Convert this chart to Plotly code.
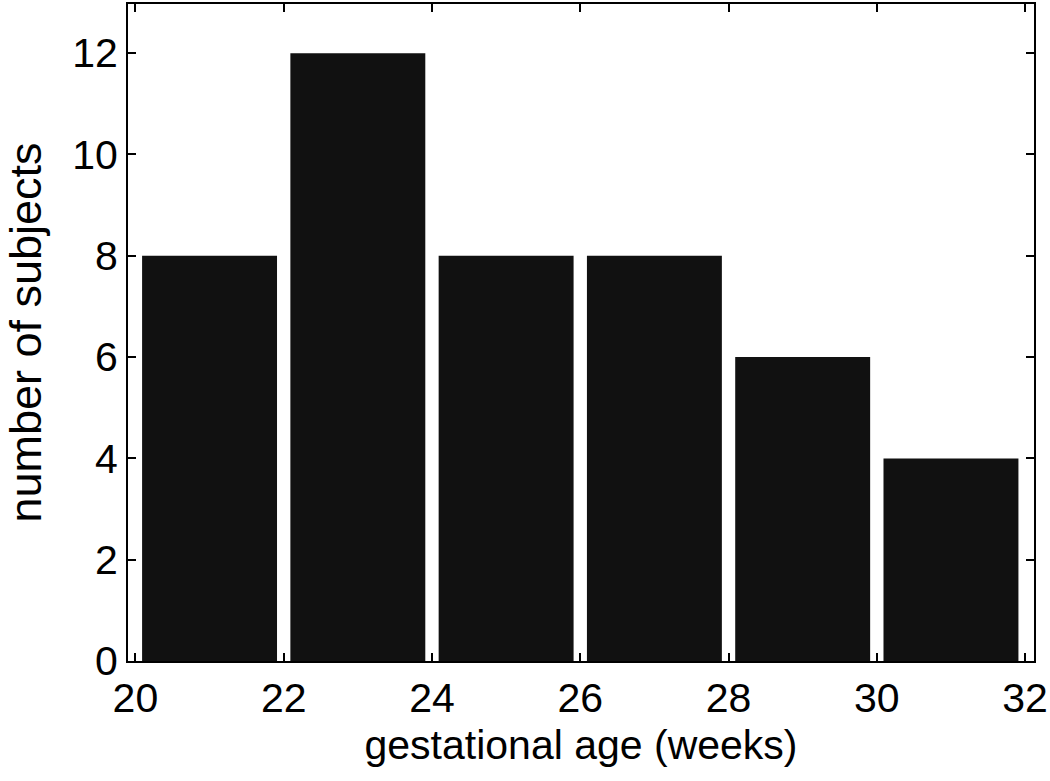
import plotly.graph_objects as go

bin_centers = [21, 23, 25, 27, 29, 31]
counts = [8, 12, 8, 8, 6, 4]
x_ticks = [20, 22, 24, 26, 28, 30, 32]
y_ticks = [0, 2, 4, 6, 8, 10, 12]

fig = go.Figure(go.Bar(
    x=bin_centers, y=counts, width=1.82,
    marker=dict(color="#111111", line=dict(width=0)),
))

FONT = "Liberation Sans, Arial, Helvetica"
axis_common = dict(
    showline=True, linecolor="black", linewidth=2, mirror="ticks",
    ticks="inside", ticklen=8, tickwidth=2, tickcolor="black",
    showgrid=False, zeroline=False,
    tickfont=dict(family=FONT, size=41, color="black"),
)

fig.update_layout(
    width=1050, height=781,
    margin=dict(l=128, r=15, t=2, b=120),
    plot_bgcolor="white", paper_bgcolor="white",
    showlegend=False,
    xaxis=dict(range=[19.9, 32.12], tickvals=x_ticks,
               title=dict(text="gestational age (weeks)", standoff=10,
                          font=dict(family=FONT, size=41, color="black")),
               **axis_common),
    yaxis=dict(range=[0, 12.97], tickvals=y_ticks,
               title=dict(text="number of subjects", standoff=18,
                          font=dict(family=FONT, size=45, color="black")),
               **axis_common),
)

fig.write_html("out.html", config={"displayModeBar": False},
               post_script="document.body.style.margin='0px';")
